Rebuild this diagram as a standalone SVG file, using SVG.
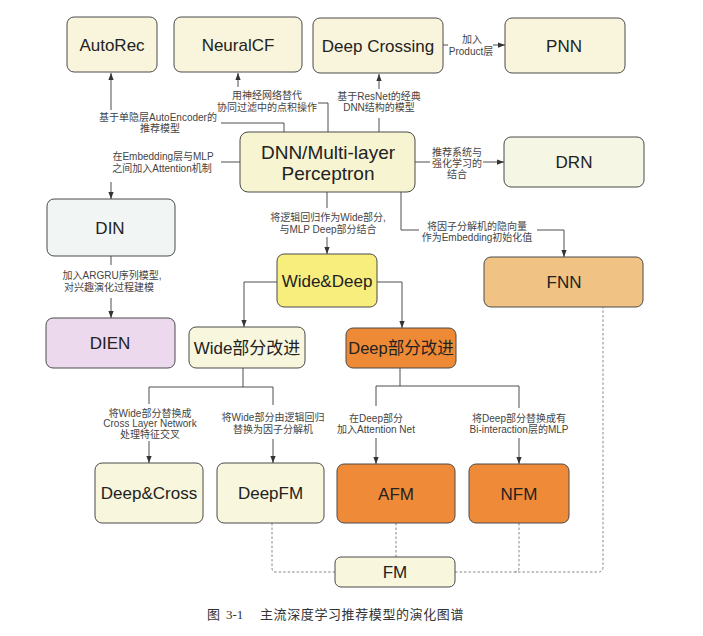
<svg xmlns="http://www.w3.org/2000/svg" width="703" height="636" viewBox="0 0 703 636">
<defs>
<marker id="arr" viewBox="0 0 8 6" refX="8" refY="3" markerWidth="7" markerHeight="6" markerUnits="userSpaceOnUse" orient="auto">
<path d="M0,0 L8,3 L0,6 z" fill="#333"/>
</marker>
<style>
.n{stroke:#4a4a4a;stroke-width:1}
.t{font-family:"Liberation Sans","Noto Sans CJK SC",sans-serif;font-size:17px;fill:#222;text-anchor:middle}
.l{font-family:"Liberation Sans","Noto Sans CJK SC",sans-serif;font-size:10px;fill:#444;text-anchor:middle}
.c{fill:none;stroke:#3a3a3a;stroke-width:0.9}
.d{fill:none;stroke:#7a7a7a;stroke-width:0.9;stroke-dasharray:2.5 2}
.cap{font-family:"Noto Sans CJK SC",serif;font-size:13px;fill:#333}
</style>
</defs>
<rect width="703" height="636" fill="#ffffff"/>

<g id="connectors">
<!-- DNN -> AutoRec -->
<path class="c" d="M284,132 V123 H221"/>
<path class="c" d="M111,110 V73" marker-end="url(#arr)"/>
<!-- DNN -> NeuralCF -->
<path class="c" d="M328,132 V103 H318"/>
<path class="c" d="M238,87 V73" marker-end="url(#arr)"/>
<!-- DNN -> Deep Crossing -->
<path class="c" d="M379,132 V118"/>
<path class="c" d="M379,89 V74" marker-end="url(#arr)"/>
<!-- Deep Crossing -> PNN -->
<path class="c" d="M443,45 H448"/>
<path class="c" d="M493,45 H505" marker-end="url(#arr)"/>
<!-- DNN -> DRN -->
<path class="c" d="M415,162 H430"/>
<path class="c" d="M483,162 H504" marker-end="url(#arr)"/>
<!-- DNN -> DIN -->
<path class="c" d="M240,162 H221"/>
<path class="c" d="M111,182 V199" marker-end="url(#arr)"/>
<!-- DIN -> DIEN -->
<path class="c" d="M111,256 V265"/>
<path class="c" d="M111,298 V318" marker-end="url(#arr)"/>
<!-- DNN -> Wide&Deep -->
<path class="c" d="M327,192 V208"/>
<path class="c" d="M327,237 V254" marker-end="url(#arr)"/>
<!-- DNN -> FNN -->
<path class="c" d="M401,192 V230 H419"/>
<path class="c" d="M537,230 H564 V257" marker-end="url(#arr)"/>
<!-- Wide&Deep -> Wide / Deep -->
<path class="c" d="M277,282 H244 V327" marker-end="url(#arr)"/>
<path class="c" d="M377,282 H402 V328" marker-end="url(#arr)"/>
<!-- Wide改进 -> Deep&Cross, DeepFM -->
<path class="c" d="M243,368 V387"/>
<path class="c" d="M149,404 V387 H273 V405"/>
<path class="c" d="M149,441 V463" marker-end="url(#arr)"/>
<path class="c" d="M273,439 V463" marker-end="url(#arr)"/>
<!-- Deep改进 -> AFM, NFM -->
<path class="c" d="M400,368 V386"/>
<path class="c" d="M376,406 V386 H519 V408"/>
<path class="c" d="M376,438 V464" marker-end="url(#arr)"/>
<path class="c" d="M519,438 V464" marker-end="url(#arr)"/>
<!-- FM relations -->
<path class="d" d="M272,523 V568 Q272,572 276,572 H335"/>
<path class="d" d="M396,523 V557"/>
<path class="d" d="M455,572 H598 Q603,572 603,567 V307"/>
<path class="d" d="M519,523 V568 Q519,572 515,572"/>
</g>

<g id="labels">
<text class="l" x="158" y="120.5">基于单隐层AutoEncoder的</text>
<text class="l" x="160" y="131.5">推荐模型</text>
<text class="l" x="267" y="99">用神经网络替代</text>
<text class="l" x="267" y="110.5">协同过滤中的点积操作</text>
<text class="l" x="379" y="100">基于ResNet的经典</text>
<text class="l" x="379" y="111">DNN结构的模型</text>
<text class="l" x="472" y="43">加入</text>
<text class="l" x="471" y="55">Product层</text>
<text class="l" x="457" y="156">推荐系统与</text>
<text class="l" x="457" y="167">强化学习的</text>
<text class="l" x="457" y="178">结合</text>
<text class="l" x="163" y="159.5">在Embedding层与MLP</text>
<text class="l" x="162" y="171.5">之间加入Attention机制</text>
<text class="l" x="112" y="278.5">加入ARGRU序列模型,</text>
<text class="l" x="109" y="290.5">对兴趣演化过程建模</text>
<text class="l" x="328" y="220.5">将逻辑回归作为Wide部分,</text>
<text class="l" x="328" y="232.5">与MLP Deep部分结合</text>
<text class="l" x="477" y="229.5">将因子分解机的隐向量</text>
<text class="l" x="477" y="240.5">作为Embedding初始化值</text>
<text class="l" x="150" y="416.5">将Wide部分替换成</text>
<text class="l" x="150" y="427">Cross Layer Network</text>
<text class="l" x="150" y="437.5">处理特征交叉</text>
<text class="l" x="273" y="420.5">将Wide部分由逻辑回归</text>
<text class="l" x="273" y="433">替换为因子分解机</text>
<text class="l" x="376" y="421.5">在Deep部分</text>
<text class="l" x="376" y="432.5">加入Attention Net</text>
<text class="l" x="519" y="421.5">将Deep部分替换成有</text>
<text class="l" x="519" y="432.5">Bi-interaction层的MLP</text>
</g>

<g id="AutoRec"><rect class="n" x="67" y="17" width="90" height="55" rx="7" fill="#f8f5dc"/><text class="t" x="112" y="50.5">AutoRec</text></g>
<g id="NeuralCF"><rect class="n" x="174" y="17" width="128" height="55" rx="7" fill="#f8f5dc"/><text class="t" x="238" y="50.5">NeuralCF</text></g>
<g id="DeepCrossing"><rect class="n" x="313" y="18" width="130" height="55" rx="7" fill="#f8f5dc"/><text class="t" x="378" y="51.5">Deep Crossing</text></g>
<g id="PNN"><rect class="n" x="505" y="18" width="120" height="55" rx="7" fill="#f8f5dc"/><text class="t" x="564" y="51.5">PNN</text></g>
<g id="DNN"><rect class="n" x="240" y="132" width="175" height="60" rx="8" fill="#f7f4d2"/><text class="t" style="font-size:19px" x="328" y="159">DNN/Multi-layer</text><text class="t" style="font-size:19px" x="328" y="180">Perceptron</text></g>
<g id="DRN"><rect class="n" x="504" y="137" width="140" height="50" rx="7" fill="#f5f6e4"/><text class="t" x="574" y="168">DRN</text></g>
<g id="DIN"><rect class="n" x="47" y="199" width="128" height="57" rx="7" fill="#f1f5f4"/><text class="t" x="110" y="233.5">DIN</text></g>
<g id="DIEN"><rect class="n" x="46" y="318" width="129" height="50" rx="7" fill="#ecd9ee"/><text class="t" x="110" y="349">DIEN</text></g>
<g id="WideDeep"><rect class="n" x="277" y="254" width="100" height="53" rx="7" fill="#f7ee7e"/><text class="t" x="327" y="286.5">Wide&amp;Deep</text></g>
<g id="WideImprove"><rect class="n" x="189" y="327" width="116" height="41" rx="7" fill="#f8f6dc"/><text class="t" x="247" y="353.5">Wide部分改进</text></g>
<g id="DeepImprove"><rect class="n" x="346" y="328" width="110" height="40" rx="7" fill="#ee8a35"/><text class="t" style="font-size:16.5px" x="401" y="354">Deep部分改进</text></g>
<g id="FNN"><rect class="n" x="484" y="257" width="159" height="50" rx="7" fill="#f0c384"/><text class="t" x="564" y="288">FNN</text></g>
<g id="DeepCross"><rect class="n" x="95" y="463" width="108" height="60" rx="7" fill="#f8f6dc"/><text class="t" x="149" y="499">Deep&amp;Cross</text></g>
<g id="DeepFM"><rect class="n" x="217" y="463" width="107" height="60" rx="7" fill="#f8f6dc"/><text class="t" x="270.5" y="499">DeepFM</text></g>
<g id="AFM"><rect class="n" x="337" y="464" width="118" height="59" rx="7" fill="#ef8a38"/><text class="t" x="396" y="499.5">AFM</text></g>
<g id="NFM"><rect class="n" x="469" y="464" width="100" height="59" rx="7" fill="#ef8a38"/><text class="t" x="519" y="499.5">NFM</text></g>
<g id="FM"><rect class="n" x="335" y="557" width="120" height="30" rx="6" fill="#f8f6dc"/><text class="t" x="395" y="578">FM</text></g>

<g id="caption">
<text class="cap" x="207" y="619">图</text>
<text class="cap" x="226" y="619" style="font-family:'Liberation Serif',serif">3-1</text>
<text class="cap" x="260" y="619" letter-spacing="0.6">主流深度学习推荐模型的演化图谱</text>
</g>
</svg>
